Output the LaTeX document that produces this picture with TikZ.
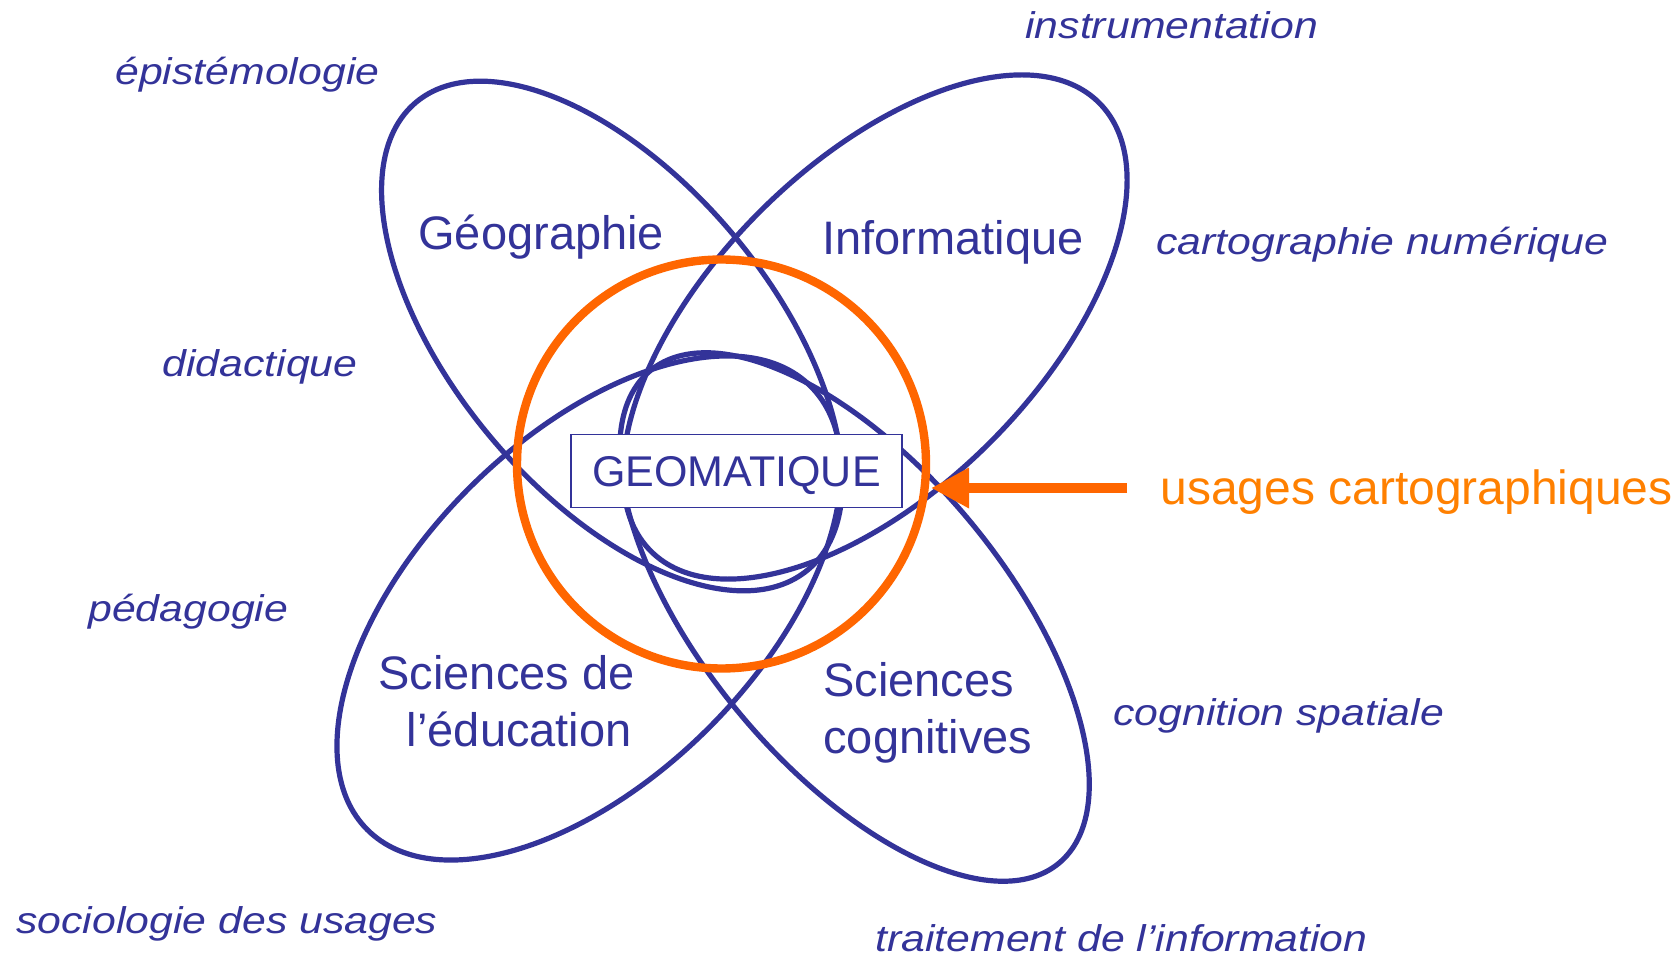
\documentclass[tikz,border=0pt]{standalone}
\usepackage{fontspec}
\setmainfont{Liberation Sans}
\newfontfamily\labelfont[FakeStretch=1.15]{Liberation Sans}
\usetikzlibrary{arrows.meta}
\definecolor{petalblue}{HTML}{333399}
\definecolor{ringorange}{HTML}{FF6600}
\definecolor{textorange}{HTML}{FF8000}
\begin{document}
\begin{tikzpicture}[x=0.5pt,y=0.5pt,
  petal/.style={draw=petalblue, line width=2.6pt},
  usagering/.style={draw=ringorange, line width=4.2pt},
  mainlabel/.style={text=petalblue, font=\fontsize{23.5}{28.5}\selectfont, inner sep=0pt, anchor=base west},
  mainlabelR/.style={mainlabel, anchor=base east},
  sidelabel/.style={text=petalblue, font=\labelfont\itshape\fontsize{18.6}{22}\selectfont, inner sep=0pt, anchor=base west},
  geobox/.style={draw=petalblue, fill=white, line width=0.85pt, minimum width=165.5pt, minimum height=36.5pt, inner sep=0pt, text height=15.4pt, text depth=0pt, text=petalblue, font=\fontsize{21.5}{25}\selectfont},
  usagearrow/.style={draw=ringorange, line width=5pt, -{Triangle[length=19pt, width=19pt]}}
]
\fill[white] (0,0) rectangle (1680,-956);
\path[use as bounding box] (0,0) rectangle (1680,-956);

% petal centres
\coordinate (geoC) at (612,-336);
\coordinate (infoC) at (875,-327);
\coordinate (educC) at (589,-608);
\coordinate (cogC) at (854.5,-617);
\coordinate (ringC) at (721.5,-464);

% petals
\draw[petal] (geoC) ellipse [x radius=152.5pt, y radius=79pt, rotate=-50];
\draw[petal] (infoC) ellipse [x radius=158.5pt, y radius=81.5pt, rotate=45];
\draw[petal] (educC) ellipse [x radius=156.75pt, y radius=84.75pt, rotate=45];
\draw[petal] (cogC) ellipse [x radius=160pt, y radius=75pt, rotate=-50.3];

% usages circle
\draw[usagering] (ringC) circle [radius=102.25pt];

% central box
\node[geobox] (geom) at (736.5,-471) {GEOMATIQUE};

% arrow
\coordinate (arrowStart) at (1127,-488);
\coordinate (arrowTip) at (931,-488);
\draw[usagearrow] (arrowStart) -- (arrowTip);

% main labels
\node[mainlabel] (geo) at (418,-250) {Géographie};
\node[mainlabel] (info) at (822,-255) {Informatique};
\node[mainlabelR] (educ1) at (635,-689) {Sciences de};
\node[mainlabelR] (educ2) at (632,-746) {l’éducation};
\node[mainlabel] (cog1) at (823,-696) {Sciences};
\node[mainlabel] (cog2) at (823,-753) {cognitives};
\node[mainlabel, text=textorange, font=\fontsize{24}{28}\selectfont] (usages) at (1160,-504) {usages cartographiques};

% side labels
\node[sidelabel] (epi) at (115,-85) {épistémologie};
\node[sidelabel] (instr) at (1025,-39) {instrumentation};
\node[sidelabel] (cartnum) at (1156,-255) {cartographie numérique};
\node[sidelabel] (didac) at (162,-377) {didactique};
\node[sidelabel] (peda) at (88,-621) {pédagogie};
\node[sidelabel] (cogsp) at (1113,-725) {cognition spatiale};
\node[sidelabel] (socio) at (16,-933) {sociologie des usages};
\node[sidelabel] (trait) at (875,-951) {traitement de l’information};
\end{tikzpicture}
\end{document}
